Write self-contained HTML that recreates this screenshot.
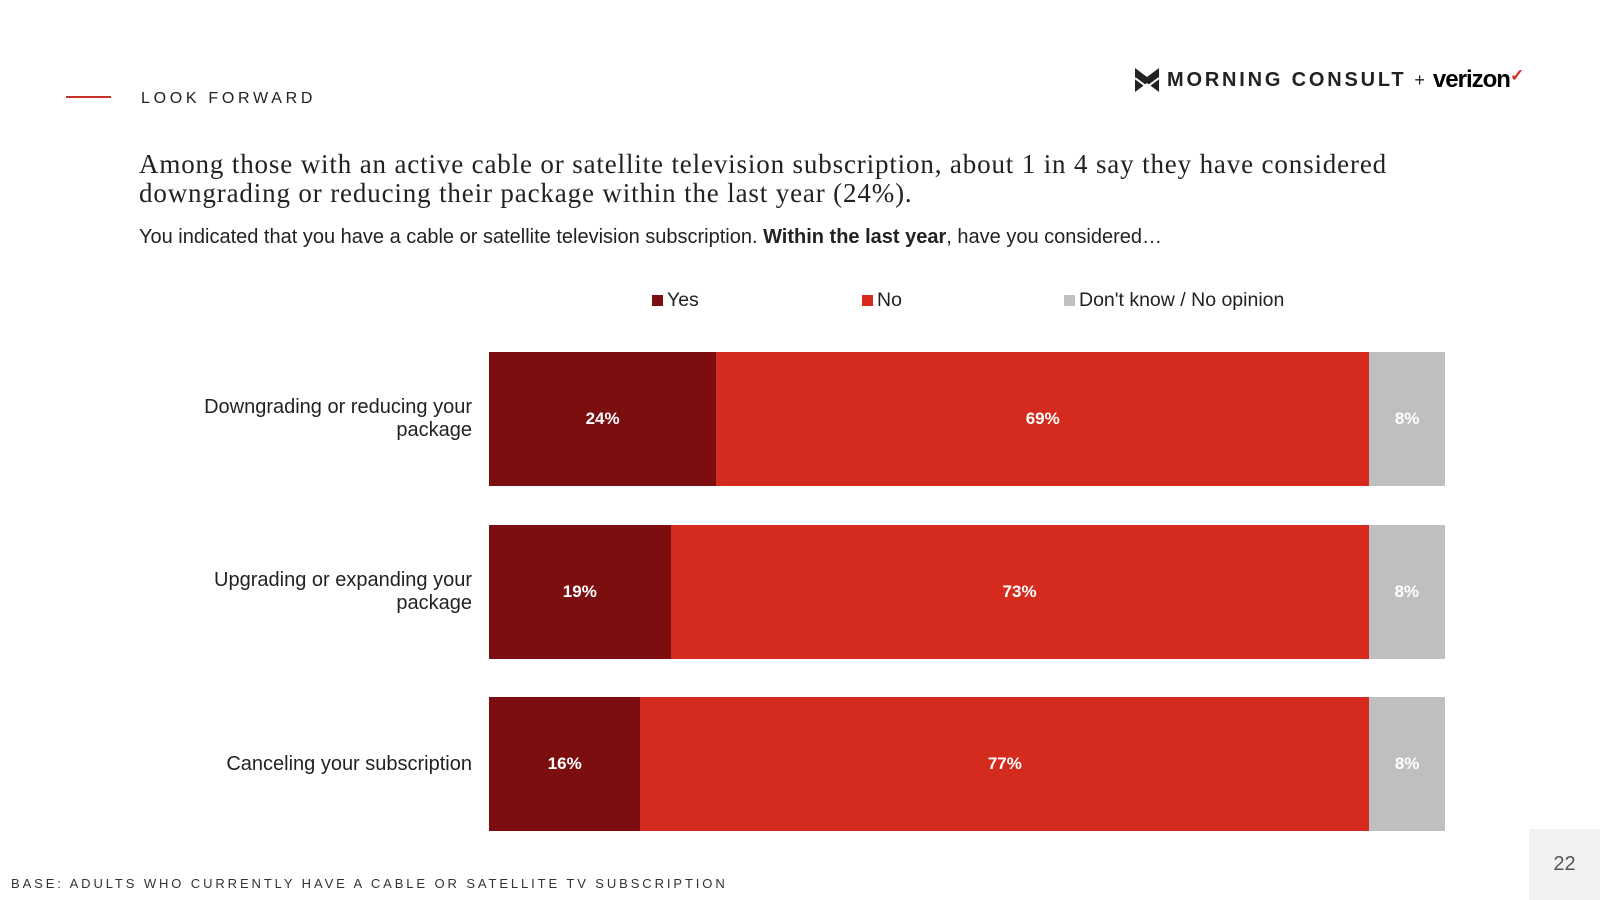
<!DOCTYPE html>
<html><head><meta charset="utf-8"><style>
body{margin:0;width:1600px;height:900px;background:#fff;position:relative;overflow:hidden;font-family:"Liberation Sans",sans-serif}
.abs{position:absolute}
</style></head><body>
<div class="abs" style="left:66px;top:96px;width:45px;height:2px;background:#c8302a"></div>
<div class="abs" style="left:141px;top:90px;font-size:16px;letter-spacing:3.7px;color:#222">LOOK FORWARD</div>
<div class="abs" style="left:1135px;top:66px;display:flex;align-items:center;gap:8px">
<svg width="24" height="24" viewBox="0 0 24 24"><path d="M0 0L12 9L24 0V24L12 15L0 24Z" fill="#222"/><path d="M0 10L12 19L24 10" stroke="#fff" stroke-width="2" fill="none"/></svg>
<span style="font-weight:bold;font-size:20px;letter-spacing:2.8px;color:#222">MORNING CONSULT</span><span style="font-size:18px;color:#222">+</span>
<span style="font-weight:bold;font-size:24px;letter-spacing:-1px;color:#000">verizon<span style="color:#d52b1e;font-size:17px;vertical-align:top">✓</span></span>
</div>
<div class="abs" style="left:139px;top:150px;font-family:'Liberation Serif',serif;font-size:27px;letter-spacing:0.85px;line-height:29px;color:#222;width:1280px">Among those with an active cable or satellite television subscription, about 1 in 4 say they have considered downgrading or reducing their package within the last year (24%).</div>
<div class="abs" style="left:139px;top:226px;font-size:20px;color:#222">You indicated that you have a cable or satellite television subscription. <b>Within the last year</b>, have you considered…</div>
<div id="legend"></div>
<div id="chart"></div>
<div class="abs" style="left:11px;top:876px;font-size:13px;letter-spacing:2.9px;color:#333">BASE: ADULTS WHO CURRENTLY HAVE A CABLE OR SATELLITE TV SUBSCRIPTION</div>
<div class="abs" style="left:1529px;top:829px;width:71px;height:71px;background:#f2f2f2;color:#555;font-size:20px;text-align:center;line-height:71px">22</div>
<script>
const categories=["Downgrading or reducing your package","Upgrading or expanding your package","Canceling your subscription"];
const yesVals=[24,19,16];
const noVals=[69,73,77];
const dkVals=[8,8,8];
const seriesNames=["Yes","No","Don't know / No opinion"];
const colors=["#7d0e10","#d52b1e","#bfbfbf"];
const X0=489,W=956,Y0=352,STEP=172.5,BH=134;
const chart=document.getElementById('chart');
const series=[yesVals,noVals,dkVals];
const legendX=[652,862,1064];
const lg=document.getElementById('legend');
seriesNames.forEach((n,i)=>{
  const e=document.createElement('div');e.className='abs';
  
  
  e.style.cssText=`left:${legendX[i]}px;top:289px;font-size:19.5px;color:#222;display:flex;align-items:center;gap:4px`;
  e.innerHTML=`<span style="display:inline-block;width:11px;height:11px;background:${colors[i]}"></span>${n}`;
  lg.appendChild(e);
});
categories.forEach((c,r)=>{
  const y=Y0+r*STEP;
  const total=series.reduce((s,a)=>s+a[r],0);
  const l=document.createElement('div');l.className='abs';
  
  
  l.style.cssText=`right:${1600-472}px;top:${y}px;height:${BH}px;width:290px;display:flex;align-items:center;justify-content:flex-end;text-align:right;font-size:20px;line-height:23px;color:#222`;
  l.textContent=c;chart.appendChild(l);
  let acc=0;
  series.forEach((a,i)=>{
    const x=X0+acc/total*W,w=a[r]/total*W;acc+=a[r];
    const b=document.createElement('div');b.className='abs';
    
    
    b.style.cssText=`left:${x}px;top:${y}px;width:${w}px;height:${BH}px;background:${colors[i]};color:#fff;font-weight:bold;font-size:17px;display:flex;align-items:center;justify-content:center`;
    b.textContent=a[r]+'%';chart.appendChild(b);
  });
});
</script>
</body></html>
